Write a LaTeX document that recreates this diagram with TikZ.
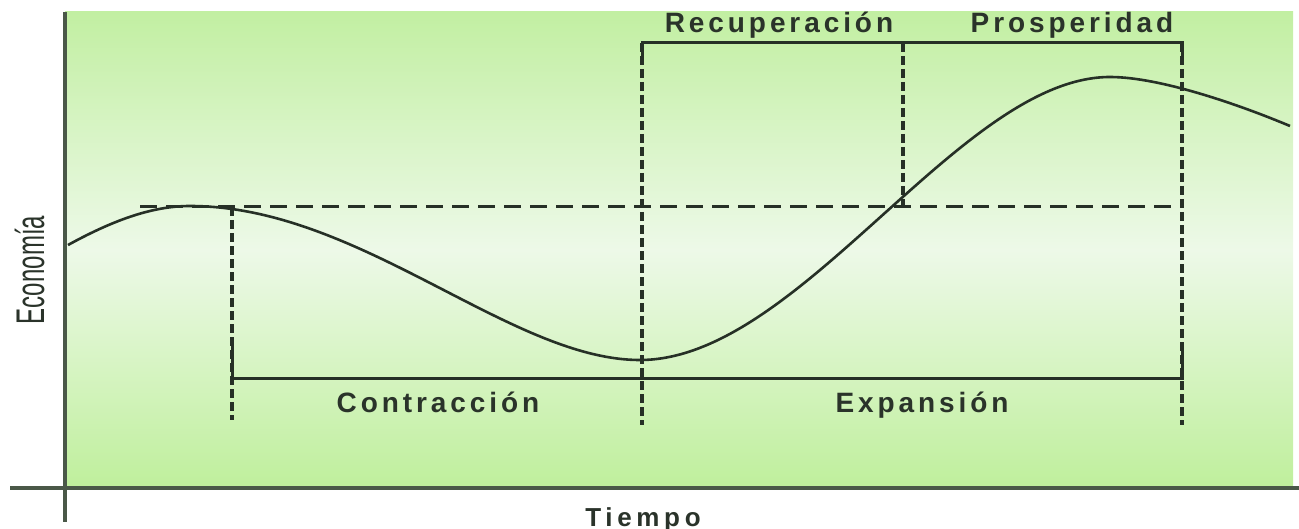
\documentclass[tikz,border=0pt]{standalone}
\usepackage{fontspec}
\setmainfont{Liberation Sans}
\newfontfamily\labfont[LetterSpace=14]{Liberation Sans}
\newfontfamily\axfont[LetterSpace=18]{Liberation Sans}
\definecolor{gtop}{HTML}{C2EFA2}
\definecolor{gmid}{HTML}{EDF9E8}
\definecolor{gbot}{HTML}{BFEF9C}
\definecolor{ink}{HTML}{263026}
\definecolor{axisc}{HTML}{4A5848}
\definecolor{txt}{HTML}{2A332A}
\tikzset{
  curveline/.style={draw=ink, line width=1.3pt},
  hdash/.style={draw=ink, line width=1.5pt, dash pattern=on 8.5pt off 4.5pt},
  vdash/.style={draw=ink, line width=1.7pt, dash pattern=on 4.5pt off 2pt},
  bracket/.style={draw=ink, line width=1.5pt},
  axisline/.style={draw=axisc, line width=1.6pt},
  phase/.style={font=\labfont\bfseries\fontsize{14}{16}\selectfont, text=txt, anchor=base, inner sep=0pt},
}
\begin{document}
\begin{tikzpicture}[x=0.5pt,y=-0.5pt]
\useasboundingbox (0,0) rectangle (1299,529);
% background
\fill[top color=gtop, bottom color=gbot, middle color=gmid] (65,12) rectangle (1293,488);
% key coordinates
\coordinate (p0) at (68,245);
\coordinate (pk1) at (190,206);
\coordinate (mn) at (640,360);
\coordinate (pk2) at (1110,77);
\coordinate (pe) at (1290,126);
\coordinate (hL) at (140,207);
\coordinate (hR) at (1182,207);
\coordinate (aT) at (232,207);
\coordinate (aB) at (232,420);
\coordinate (bT) at (642,43);
\coordinate (bB) at (642,425);
\coordinate (cT) at (903,43);
\coordinate (cB) at (903,207);
\coordinate (dT) at (1182,43);
\coordinate (dB) at (1182,425);
% dashed guides
\draw[hdash] (hL) -- (hR);
\draw[vdash] (aT) -- (aB);
\draw[vdash] (bT) -- (bB);
\draw[vdash] (cT) -- (cB);
\draw[vdash] (dT) -- (dB);
% brackets
\draw[bracket] (232,338) -- (232,378) -- (1182,378) -- (1182,345);
\draw[bracket] (642,56) -- (bT) -- (dT) -- (1182,56);
% curve
\draw[curveline] (p0) .. controls (110,222) and (150,206) .. (pk1)
  .. controls (360,206) and (510,360) .. (mn)
  .. controls (800,360) and (960,77) .. (pk2)
  .. controls (1160,77) and (1240,105) .. (pe);
% axes
\coordinate (xl) at (10,488);
\coordinate (xr) at (1299,488);
\coordinate (yt) at (65,12);
\coordinate (yb) at (65,522);
\draw[axisline] (xl) -- (xr);
\draw[axisline] (yt) -- (yb);
% labels
\node[phase] (rec) at (779,33) {Recuperación};
\node[phase] (pro) at (1072,33) {Prosperidad};
\node[phase] (con) at (438,412) {Contracción};
\node[phase] (exp) at (922,412) {Expansión};
\node[font=\axfont\bfseries\fontsize{13}{15}\selectfont, text=txt, anchor=base, inner sep=0pt] (tie) at (643,526) {Tiempo};
\node[text=txt, anchor=base, inner sep=0pt, rotate=90] (eco) at (44,270) {\scalebox{0.6}[1]{\fontsize{20}{22}\selectfont Economía}};
\end{tikzpicture}
\end{document}
